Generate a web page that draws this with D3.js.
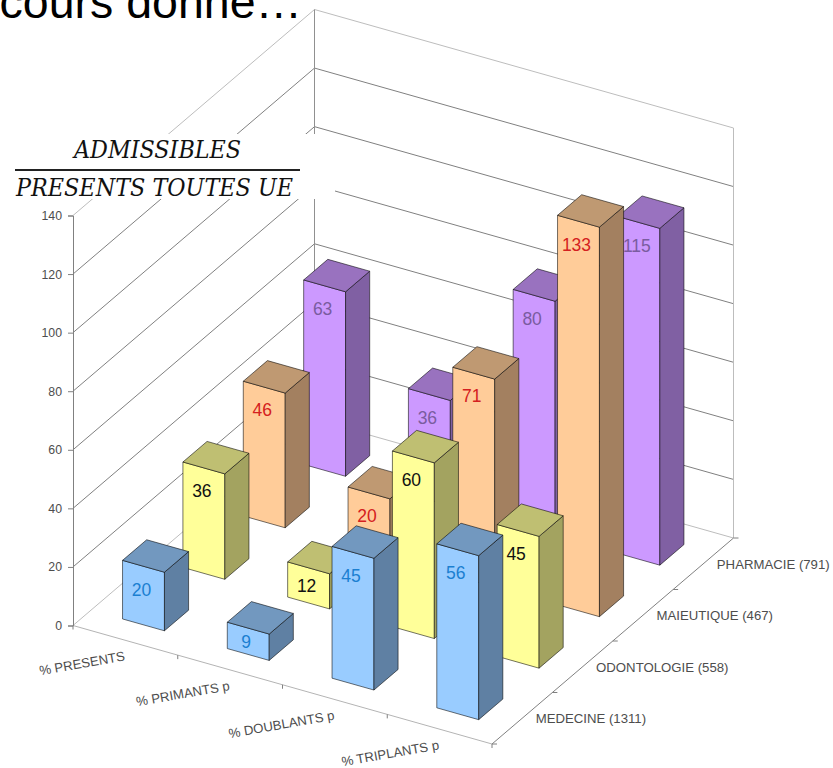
<!DOCTYPE html>
<html>
<head>
<meta charset="utf-8">
<script src="https://cdn.jsdelivr.net/npm/d3@7"></script>
<style>
  html, body { margin: 0; padding: 0; background: #fff; overflow: hidden; }
  text { font-family: "Liberation Sans", Arial, sans-serif; }
</style>
</head>
<body>
<div id="chart"></div>
<script>
// values
var seriesNames = ["% PRESENTS", "% PRIMANTS p", "% DOUBLANTS p", "% TRIPLANTS p"];
var rowNames = ["MEDECINE (1311)", "ODONTOLOGIE (558)", "MAIEUTIQUE (467)", "PHARMACIE (791)"];
var medecine = [20, 9, 45, 56];
var odontologie = [36, 12, 60, 45];
var maieutique = [46, 20, 71, 133];
var pharmacie = [63, 36, 80, 115];
var rows = [medecine, odontologie, maieutique, pharmacie];
var yTicks = [0, 20, 40, 60, 80, 100, 120, 140];

var frontColors = ["#99ccff", "#ffff99", "#ffcc99", "#cc99ff"];
var topColors = ["#7298bf", "#bfbf72", "#bf9972", "#9972bf"];
var sideColors = ["#5f80a3", "#a3a360", "#a38060", "#8060a3"];
var labelColors = ["#1b7fd1", "#111111", "#d42020", "#7a5ca0"];

var width = 833, height = 768;

var svg = d3.select("#chart").append("svg")
  .attr("width", width)
  .attr("height", height)
  .style("display", "block");

// floor is a parallelogram: origin + u * xVec + v * zVec, heights go straight up
var origin = [73, 625.5];
var xVec = [419, 118.5];
var zVec = [241.5, -206];

var y = d3.scaleLinear().domain([0, 140]).range([625.5, 215.5]);
var u = d3.scaleBand().domain(seriesNames).range([0, 1]).paddingInner(0.6).paddingOuter(0.3);
var v = d3.scaleBand().domain(rowNames).range([0, 1]).paddingInner(0.6).paddingOuter(0.3);
var uCell = d3.scaleBand().domain(seriesNames).range([0, 1]);
var vCell = d3.scaleBand().domain(rowNames).range([0, 1]);

function project(a, b, val) {
  return [
    origin[0] + a * xVec[0] + b * zVec[0],
    origin[1] + a * xVec[1] + b * zVec[1] + (y(val) - y(0))
  ];
}

function wallLine(p1, p2, color) {
  svg.append("line")
    .attr("x1", p1[0]).attr("y1", p1[1])
    .attr("x2", p2[0]).attr("y2", p2[1])
    .attr("stroke", color)
    .attr("stroke-width", 1);
}

// walls
yTicks.forEach(function (t) {
  var color = (t === 140 || t === 0) ? "#bdbdbd" : "#808080";
  wallLine(project(0, 0, t), project(0, 1, t), color);
  wallLine(project(0, 1, t), project(1, 1, t), color);
});
wallLine(project(0, 1, 0), project(0, 1, 140), "#909090");
wallLine(project(1, 1, 0), project(1, 1, 140), "#bdbdbd");

// floor edges
wallLine(project(0, 0, 0), project(1, 0, 0), "#b4b4b4");
wallLine(project(1, 0, 0), project(1, 1, 0), "#808080");

// left axis
var yAxis = d3.axisLeft(y).tickValues(yTicks).tickSize(5).tickPadding(6);
var axisG = svg.append("g").attr("transform", "translate(73,0)").call(yAxis);
axisG.selectAll("path, line").attr("stroke", "#808080");
axisG.selectAll("text")
  .style("font-family", "Liberation Sans")
  .style("font-size", "12.3px")
  .attr("fill", "#4d4d4d");

// ticks on the floor edges
d3.range(5).forEach(function (i) {
  var p = project(i / 4, 0, 0);
  wallLine(p, [p[0], p[1] + 4], "#808080");
  var q = project(1, i / 4, 0);
  wallLine(q, [q[0] + 5, q[1]], "#808080");
});

// floor labels
seriesNames.forEach(function (name) {
  var p = project(uCell(name) + uCell.bandwidth() / 2, 0, 0);
  svg.append("text")
    .attr("transform", "translate(" + p[0] + "," + (p[1] + 20) + ") rotate(-10)")
    .attr("text-anchor", "end")
    .attr("fill", "#4d4d4d")
    .style("font-size", "13.2px")
    .text(name);
});
rowNames.forEach(function (name) {
  var p = project(1, vCell(name) + vCell.bandwidth() / 2, 0);
  svg.append("text")
    .attr("x", p[0] + 13.5)
    .attr("y", p[1] + 5)
    .attr("fill", "#4d4d4d")
    .style("font-size", "13.2px")
    .text(name);
});

// the fraction sits on a white box pasted over the grid
svg.append("rect")
  .attr("x", 0).attr("y", 134)
  .attr("width", 335).attr("height", 65)
  .attr("fill", "#fff");
svg.append("text")
  .attr("x", 74).attr("y", 158)
  .attr("textLength", 167)
  .attr("lengthAdjust", "spacingAndGlyphs")
  .attr("fill", "#111")
  .style("font-family", "DejaVu Serif")
  .style("font-style", "italic")
  .style("font-size", "23.5px")
  .text("ADMISSIBLES");
svg.append("line")
  .attr("x1", 15).attr("y1", 170)
  .attr("x2", 300).attr("y2", 170)
  .attr("stroke", "#222")
  .attr("stroke-width", 2);
svg.append("text")
  .attr("x", 16).attr("y", 196)
  .attr("textLength", 277)
  .attr("lengthAdjust", "spacingAndGlyphs")
  .attr("fill", "#111")
  .style("font-family", "DejaVu Serif")
  .style("font-style", "italic")
  .style("font-size", "23.5px")
  .text("PRESENTS TOUTES UE");

// clipped slide title
svg.append("text")
  .attr("x", 302).attr("y", 18)
  .attr("text-anchor", "end")
  .attr("fill", "#000")
  .style("font-size", "46.5px")
  .text("cours donné…");

// bars, back row first, left to right so nearer bars cover farther ones
function polygon(g, pts, fill) {
  g.append("polygon")
    .attr("points", pts.map(function (p) { return p.join(","); }).join(" "))
    .attr("fill", fill)
    .attr("stroke", "#000")
    .attr("stroke-opacity", 0.55)
    .attr("stroke-width", 1)
    .attr("stroke-linejoin", "round");
}

d3.range(3, -1, -1).forEach(function (r) {
  rows[r].forEach(function (val, s) {
    var u0 = u(seriesNames[s]), u1 = u0 + u.bandwidth();
    var v0 = v(rowNames[r]), v1 = v0 + v.bandwidth();
    var g = svg.append("g");

    polygon(g, [project(u0, v0, 0), project(u1, v0, 0), project(u1, v0, val), project(u0, v0, val)], frontColors[r]);
    polygon(g, [project(u1, v0, 0), project(u1, v1, 0), project(u1, v1, val), project(u1, v0, val)], sideColors[r]);
    polygon(g, [project(u0, v0, val), project(u1, v0, val), project(u1, v1, val), project(u0, v1, val)], topColors[r]);

    var mid = project((u0 + u1) / 2, v0, val);
    var barH = y(0) - y(val);
    g.append("text")
      .attr("x", mid[0] - 2)
      .attr("y", mid[1] + Math.min(23, barH / 2))
      .attr("dy", "0.36em")
      .attr("text-anchor", "middle")
      .attr("fill", labelColors[r])
      .style("font-size", "17.5px")
      .text(val);
  });
});
</script>
</body>
</html>
